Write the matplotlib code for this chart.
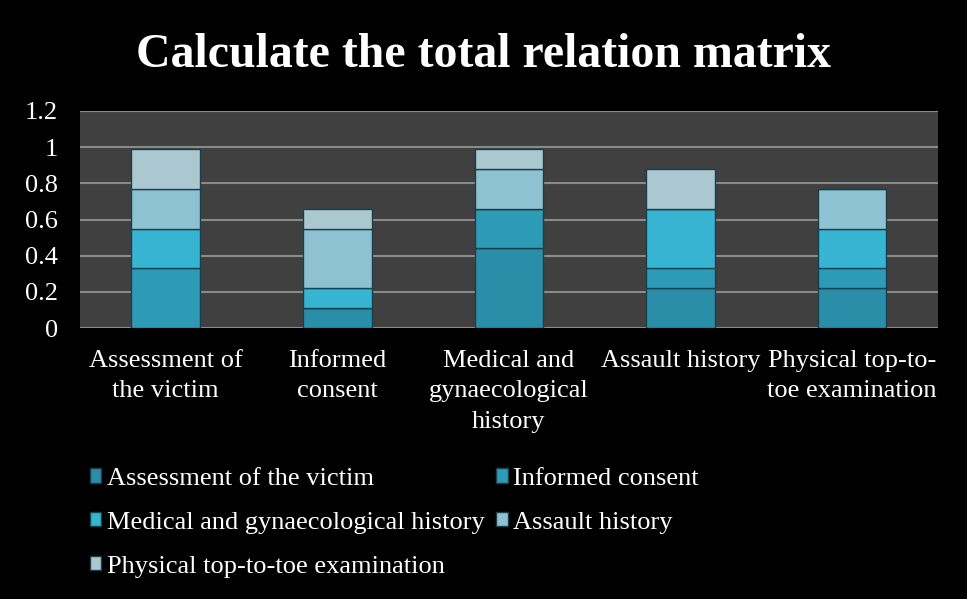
from matplotlib import pyplot as plt
import numpy as np

categories = ["Assessment of\nthe victim", "Informed\nconsent", "Medical and\ngynaecological\nhistory",
              "Assault history", "Physical top-to-\ntoe examination"]
series_names = ["Assessment of the victim", "Informed consent", "Medical and gynaecological history",
                "Assault history", "Physical top-to-toe examination"]

# values (one list per series)
assessment = [0.00, 0.11, 0.44, 0.22, 0.22]
informed = [0.33, 0.00, 0.22, 0.11, 0.11]
medical = [0.22, 0.11, 0.00, 0.33, 0.22]
assault = [0.22, 0.33, 0.22, 0.00, 0.22]
physical = [0.22, 0.11, 0.11, 0.22, 0.00]

colors = ["#2a8ea8", "#2e9bb6", "#37b4d2", "#8ec2d3", "#abc8d1"]

plt.rcParams['font.family'] = ['Liberation Serif', 'DejaVu Serif']

fig = plt.figure(figsize=(9.67, 5.99), dpi=100, facecolor="black")
ax = fig.add_axes([0.0827, 0.4524, 0.887, 0.3623])
ax.set_facecolor("#404040")

x = np.arange(len(categories))
bottom = np.zeros(len(categories))
handles = []
for vals, name, col in zip([assessment, informed, medical, assault, physical], series_names, colors):
    b = ax.bar(x, vals, 0.40, bottom=bottom, color=col, edgecolor="#1b3f4a", linewidth=1.0,
               label=name, zorder=3)
    handles.append(b)
    bottom += np.array(vals)

ax.set_xlim(-0.5, 4.5)
ax.set_ylim(0, 1.2)
ax.set_yticks(np.arange(0, 1.21, 0.2))
ax.set_yticklabels(["0", "0.2", "0.4", "0.6", "0.8", "1", "1.2"])
ax.yaxis.grid(True, color="#8a8a8a", linewidth=1.5, zorder=0)
ax.set_axisbelow(True)
for s in ax.spines.values():
    s.set_visible(False)
ax.axhline(1.2, color="#8a8a8a", linewidth=1.5, zorder=1)
ax.tick_params(axis="both", length=0, colors="white", labelsize=19)
ax.tick_params(axis="y", pad=16)
ax.tick_params(axis="x", pad=16)
ax.set_xticks(x)
ax.set_xticklabels(categories, color="white", fontsize=19, linespacing=1.48)

fig.text(0.5, 0.908, "Calculate the total relation matrix", color="white", fontsize=34.5,
         fontweight="bold", ha="center", va="center")

order = [0, 2, 4, 1, 3]
leg = fig.legend([handles[i] for i in order], [series_names[i] for i in order],
                 loc="upper left", bbox_to_anchor=(0.079, 0.241), ncol=2, frameon=False,
                 fontsize=19, labelspacing=0.83, columnspacing=0.44, handlelength=0.45,
                 handleheight=0.45, handletextpad=0.2, borderpad=0)
for t in leg.get_texts():
    t.set_color("white")

fig.savefig("out.png", dpi=100, facecolor="black")
